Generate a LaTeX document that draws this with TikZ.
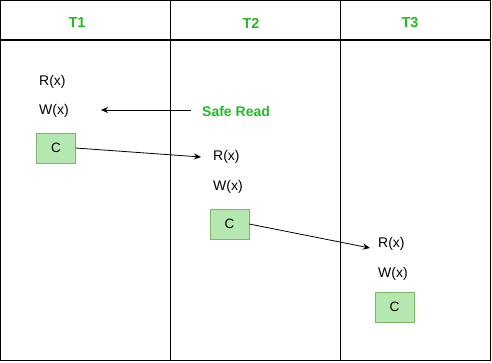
\documentclass[tikz,border=0pt]{standalone}
\usepackage{fontspec}
\setmainfont{Liberation Sans}
\usetikzlibrary{arrows.meta}
\definecolor{hdgreen}{HTML}{22BB22}
\definecolor{boxfill}{HTML}{B5E8B0}
\definecolor{boxline}{HTML}{82B366}
\tikzset{
  hdr/.style={font=\fontsize{14.5}{16}\selectfont\bfseries, text=hdgreen},
  op/.style={font=\fontsize{14}{16}\selectfont, anchor=west, inner sep=0pt},
  cbox/.style={draw=boxline, fill=boxfill, minimum width=39pt, minimum height=30pt, inner sep=0pt, font=\fontsize{13.5}{15}\selectfont},
  conn/.style={-{Stealth[length=7pt,width=6pt]}, line width=0.8pt},
  grid/.style={line width=1.2pt}
}
\begin{document}
\begin{tikzpicture}[x=1pt,y=-1pt]
\useasboundingbox (0,0) rectangle (492,362);
\fill[white] (0,0) rectangle (492,362);
% table
\draw[grid] (0.6,0.6) rectangle (490.4,360.4);
\draw[grid] (0,40) -- (491,40);
\draw[grid] (170.5,0) -- (170.5,361);
\draw[grid] (340.5,0) -- (340.5,361);
% headers
\node[hdr] (t1) at (77,23) {T1};
\node[hdr] (t2) at (251,23) {T2};
\node[hdr] (t3) at (410,23) {T3};
% T1
\node[op] (r1) at (39,82) {R(x)};
\node[op] (w1) at (39,111) {W(x)};
\node[cbox] (c1) at (56,148) {C};
% safe read
\node[font=\fontsize{14}{16}\selectfont\bfseries, text=hdgreen, anchor=west, inner sep=0pt] (sr) at (202,111) {Safe Read};
\coordinate (srs) at (191,110);
\coordinate (srt) at (101,110);
\draw[conn] (srs) -- (srt);
% T2
\node[op] (r2) at (213,157) {R(x)};
\node[op] (w2) at (213,187) {W(x)};
\node[cbox] (c2) at (229.5,224) {C};
% T3
\node[op] (r3) at (378,244) {R(x)};
\node[op] (w3) at (378,274) {W(x)};
\node[cbox] (c3) at (394.5,307) {C};
% connectors
\draw[conn] (c1.east) -- ([xshift=-12pt]r2.west);
\draw[conn] (c2.east) -- ([xshift=-8pt,yshift=-4pt]r3.west);
\end{tikzpicture}
\end{document}
